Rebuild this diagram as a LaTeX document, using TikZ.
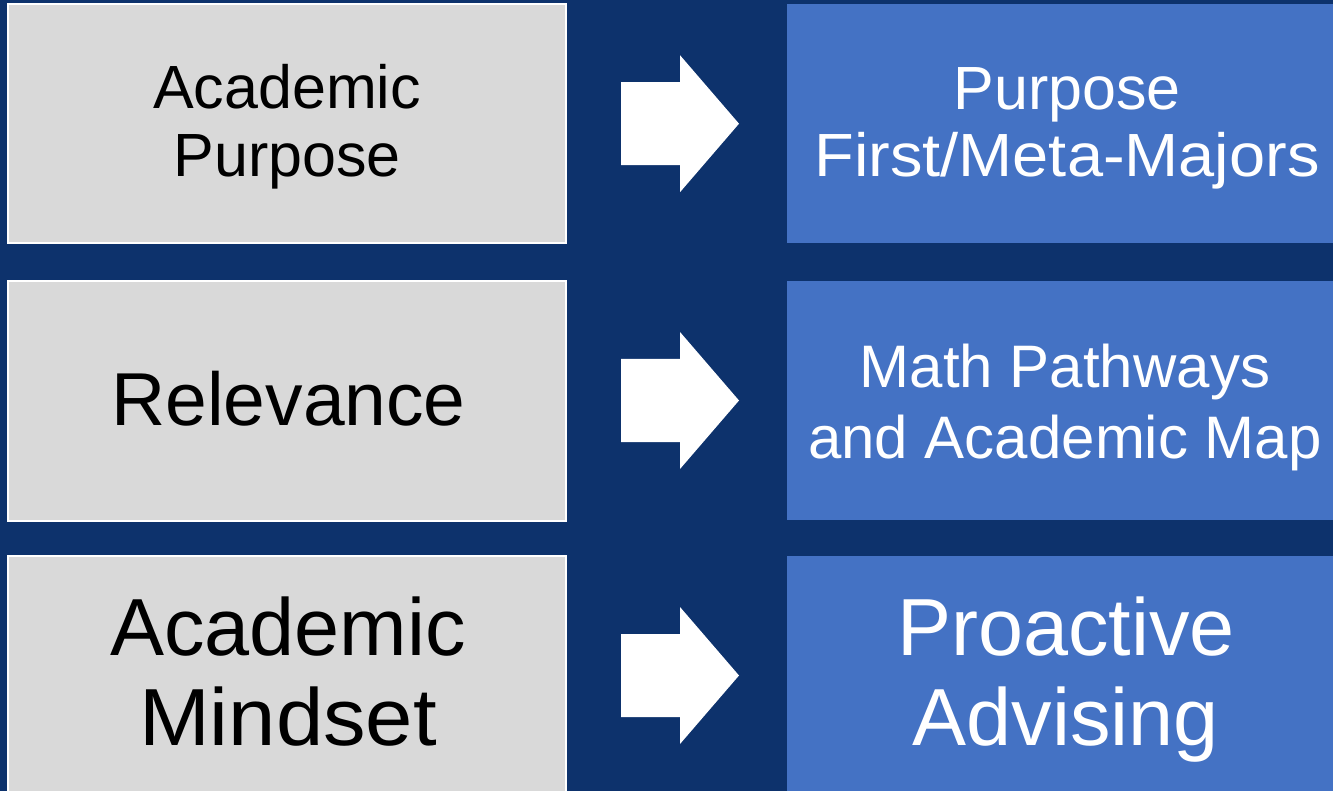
\documentclass[tikz,border=0pt]{standalone}
\usepackage{fontspec}
\setmainfont{Liberation Sans}
\definecolor{navybg}{RGB}{13,50,108}
\definecolor{greybox}{RGB}{217,217,217}
\definecolor{bluebox}{RGB}{68,114,196}
\tikzset{
  leftbox/.style={fill=greybox, draw=white, line width=2pt},
  rightbox/.style={fill=bluebox, draw=none},
  lefttext/.style={text=black, align=center, inner sep=0pt},
  righttext/.style={text=white, align=center, inner sep=0pt},
  blockarrow/.pic={\fill[white] (0,-41.5) -- (59,-41.5) -- (59,-68.5) -- (118,0) -- (59,68.5) -- (59,41.5) -- (0,41.5) -- cycle;}
}
\begin{document}
\begin{tikzpicture}[x=1pt,y=-1pt]
\useasboundingbox (0,0) rectangle (1333,791);
\clip (0,0) rectangle (1333,791);
\fill[navybg] (0,0) rectangle (1333,791);
% left boxes
\draw[leftbox] (8,4) rectangle (566,243.5);
\draw[leftbox] (8,281) rectangle (566,521);
\draw[leftbox] (8,556) rectangle (566,810);
% right boxes
\fill[bluebox] (787,4) rectangle (1345,242.7);
\fill[bluebox] (787,281) rectangle (1345,520);
\fill[bluebox] (787,556) rectangle (1345,810);
% arrows
\pic at (621,123.7) {blockarrow};
\pic at (621,400.5) {blockarrow};
\pic at (621,675.5) {blockarrow};
% texts
\node[lefttext, font=\fontsize{61}{68}\selectfont] (l1) at (287,126.6) {Academic\\Purpose};
\node[lefttext, font=\fontsize{75}{80}\selectfont, anchor=base] (l2) at (288.5,425) {Relevance};
\node[lefttext, font=\fontsize{81}{90}\selectfont] (l3) at (288,671.8) {Academic\\{\addfontfeatures{FakeStretch=1.05}Mindset}};
\node[righttext, font=\fontsize{61}{67}\selectfont] (r1) at (1067,128) {Purpose\\{\addfontfeatures{FakeStretch=1.065}First/Meta-Majors}};
\node[righttext, font=\fontsize{60}{71}\selectfont] (r2) at (1065,407.8) {Math Pathways\\and Academic Map};
\node[righttext, font=\fontsize{81}{90}\selectfont] (r3) at (1066,680) {Proactive\\Advising};
\end{tikzpicture}
\end{document}
